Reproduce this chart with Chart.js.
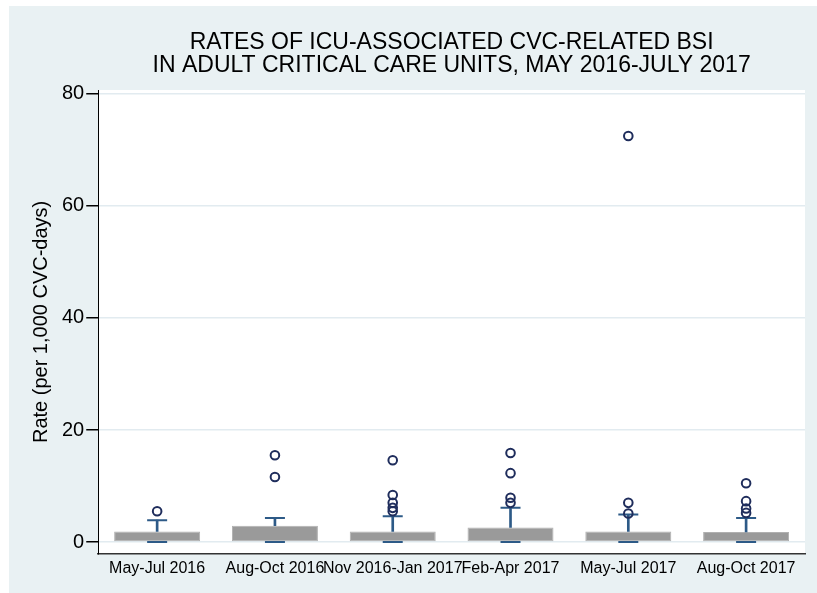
<!DOCTYPE html>
<html>
<head>
<meta charset="utf-8">
<script src="https://cdn.jsdelivr.net/npm/chart.js@4/dist/chart.umd.min.js"></script>
<style>
    body { margin: 0; background: #fff; }
    #panel { position: absolute; left: 9px; top: 6px; width: 808px; height: 587px; background: #e9f1f3; }
</style>
</head>
<body>
<div id="panel"><canvas id="box-chart" width="808" height="587"></canvas></div>
<script>
// Periods on the x axis
const periods = ['May-Jul 2016', 'Aug-Oct 2016', 'Nov 2016-Jan 2017', 'Feb-Apr 2017', 'May-Jul 2017', 'Aug-Oct 2017'];

// Box edges and whisker ends (rate per 1,000 CVC-days)
const lowerQuartile = [0, 0, 0, 0, 0, 0];
const upperQuartile = [1.9, 2.9, 1.9, 2.6, 1.9, 1.8];
const lowerWhisker = [0, 0, 0, 0, 0, 0];
const upperWhisker = [3.9, 4.3, 4.6, 6.1, 4.9, 4.3];

// Outside values, one list per period
const outsideValues = [
    [5.5],
    [11.6, 15.5],
    [5.5, 6.1, 7.0, 8.4, 14.6],
    [7.0, 7.9, 12.3, 15.9],
    [5.1, 7.0, 72.5],
    [5.2, 6.0, 7.3, 10.5]
];

const yTicks = [0, 20, 40, 60, 80];

const whiskerColor = '#2d5a87';
const outlierColor = '#1f2d5c';

// White plot region inside the blue-grey panel
const plotBackground = {
    id: 'plotBackground',
    beforeDraw(chart) {
        const a = chart.chartArea;
        const ctx = chart.ctx;
        ctx.save();
        ctx.fillStyle = '#ffffff';
        ctx.fillRect(a.left, a.top, a.right - a.left, a.bottom - a.top);
        ctx.restore();
    }
};

const outlierPoints = [];
outsideValues.forEach((list, i) => {
    list.forEach(v => outlierPoints.push({ x: periods[i], y: v }));
});

const ctx = document.getElementById('box-chart').getContext('2d');

new Chart(ctx, {
    type: 'bar',
    data: {
        labels: periods,
        datasets: [
            {
                label: 'Box',
                data: periods.map((p, i) => [lowerQuartile[i], upperQuartile[i]]),
                backgroundColor: '#9a9a9a',
                borderColor: '#b0b0b0',
                borderWidth: 1,
                borderSkipped: false,
                barPercentage: 0.73,
                categoryPercentage: 1,
                grouped: false,
                order: 4
            },
            {
                label: 'Whisker',
                data: periods.map((p, i) => [upperQuartile[i], upperWhisker[i]]),
                backgroundColor: whiskerColor,
                barThickness: 2,
                grouped: false,
                order: 3
            },
            {
                type: 'line',
                label: 'Upper cap',
                data: upperWhisker,
                showLine: false,
                pointStyle: 'line',
                pointRadius: 10,
                borderColor: whiskerColor,
                borderWidth: 2,
                order: 2
            },
            {
                type: 'line',
                label: 'Lower cap',
                data: lowerWhisker,
                showLine: false,
                pointStyle: 'line',
                pointRadius: 10,
                borderColor: whiskerColor,
                borderWidth: 2,
                order: 2
            },
            {
                type: 'line',
                label: 'Outside values',
                data: outlierPoints,
                showLine: false,
                pointStyle: 'circle',
                pointRadius: 4.3,
                borderColor: outlierColor,
                backgroundColor: 'rgba(255,255,255,0)',
                borderWidth: 2,
                order: 1
            }
        ]
    },
    options: {
        responsive: false,
        animation: false,
        layout: {
            padding: { left: 17, right: 12, top: 0, bottom: 10 }
        },
        plugins: {
            legend: { display: false },
            tooltip: { enabled: false },
            title: {
                display: true,
                fullSize: false,
                text: ['RATES OF ICU-ASSOCIATED CVC-RELATED BSI', 'IN ADULT CRITICAL CARE UNITS, MAY 2016-JULY 2017'],
                color: '#000',
                font: { family: 'Liberation Sans', size: 23, weight: 'normal', lineHeight: 1.0 },
                padding: { top: 25, bottom: 13 }
            }
        },
        scales: {
            x: {
                grid: { display: false, drawTicks: false },
                border: { color: '#333', width: 1.5 },
                ticks: {
                    color: '#000',
                    padding: 5,
                    maxRotation: 0,
                    autoSkip: false,
                    font: { family: 'Liberation Sans', size: 16 }
                }
            },
            y: {
                min: -2.1,
                max: 80.7,
                afterBuildTicks(scale) {
                    scale.ticks = yTicks.map(v => ({ value: v }));
                },
                grid: {
                    color: '#e2ebf0',
                    lineWidth: 1.5,
                    tickColor: '#000',
                    tickLength: 12
                },
                border: { color: '#000', width: 1 },
                ticks: {
                    color: '#000',
                    padding: 2,
                    font: { family: 'Liberation Sans', size: 20 }
                },
                title: {
                    display: true,
                    text: 'Rate (per 1,000 CVC-days)',
                    color: '#000',
                    font: { family: 'Liberation Sans', size: 20 },
                    padding: { top: 3, bottom: 7 }
                }
            }
        }
    },
    plugins: [plotBackground]
});
</script>
</body>
</html>
